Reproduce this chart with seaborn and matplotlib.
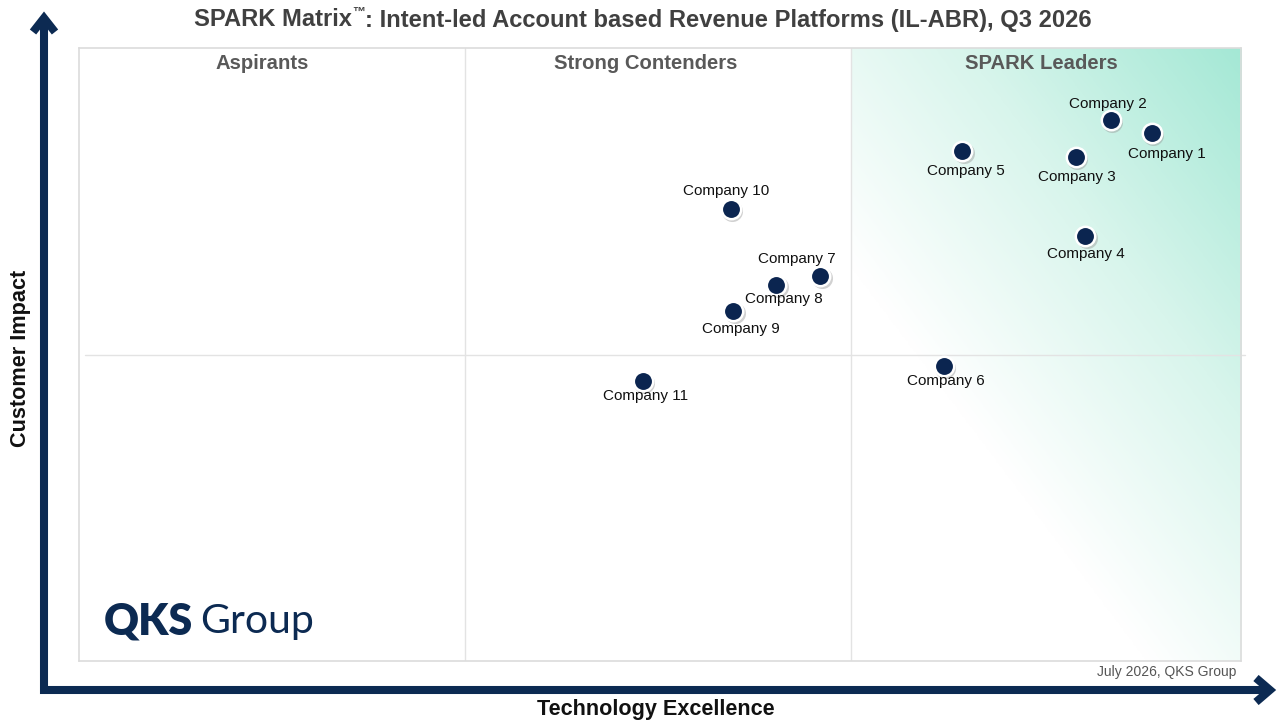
import numpy as np
import pandas as pd
import matplotlib
matplotlib.use("Agg")
import matplotlib.pyplot as plt
from matplotlib.colors import LinearSegmentedColormap
from matplotlib.lines import Line2D
import seaborn as sns

# ---- data ----
companies = ["Company 1", "Company 2", "Company 3", "Company 4", "Company 5", "Company 6",
             "Company 7", "Company 8", "Company 9", "Company 10", "Company 11"]
tech_excellence = [92.3, 88.8, 85.8, 86.6, 76.0, 74.4, 63.8, 60.0, 56.3, 56.1, 48.5]
customer_impact = [86.1, 88.3, 82.2, 69.3, 83.2, 48.1, 62.8, 61.3, 57.1, 73.7, 45.7]
quadrants = ["Aspirants", "Strong Contenders", "SPARK Leaders"]
title_parts = ["SPARK Matrix", "\u2122", ": Intent-led Account based Revenue Platforms (IL-ABR), Q3 2026"]
x_label = "Technology Excellence"
y_label = "Customer Impact"
footnote = "July 2026, QKS Group"

# label offsets in pixels (dx right, dy up)
label_offsets = [(15, -21), (-3, 16), (1, -20), (1, -18), (4, -20), (2, -15),
                 (-24, 17), (8, -14), (8, -18), (-5, 18), (3, -15)]
quadrant_label_x = [15.8, 48.8, 82.8]
col_edges = [33.2, 66.4]

df = pd.DataFrame({"company": companies, "x": tech_excellence, "y": customer_impact})

sns.set_theme(style="white")
plt.rcParams["font.family"] = ["Liberation Sans", "DejaVu Sans"]

W, H = 1280, 720
fig = plt.figure(figsize=(12.8, 7.2), dpi=100)
ax = fig.add_axes([79 / W, 1 - 661 / H, (1241 - 79) / W, (661 - 48) / H])
ax.set_xlim(0, 100)
ax.set_ylim(0, 100)

# gradient in leaders column
x0 = col_edges[1]
gx = np.linspace(x0, 100, 300)
gy = np.linspace(0, 100, 400)
GX, GY = np.meshgrid(gx, gy)
px_per_x = (1241 - 79) / 100
px_per_y = (661 - 48) / 100
t = 0.8 * (GX - x0) * px_per_x + 0.6 * GY * px_per_y
val = np.clip((t - 235) / (680 - 235), 0, 1)
cmap = LinearSegmentedColormap.from_list("lead", ["#ffffff", "#d8f5ec", "#a4e8d5"])
ax.imshow(val, extent=[x0, 100, 0, 100], origin="lower", aspect="auto", cmap=cmap,
          vmin=0, vmax=1, zorder=0, interpolation="bilinear")

# grid lines
grid_c = "#e3e3e3"
for xv in col_edges:
    ax.axvline(xv, color=grid_c, lw=1.0, zorder=1)
ax.plot([0.5, 100.35], [50, 50], color=grid_c, lw=1.0, zorder=1, clip_on=False)
for s in ax.spines.values():
    s.set_color("#dcdcdc")
    s.set_linewidth(1.2)
ax.set_xticks([])
ax.set_yticks([])

# shadow + points
ax.scatter(np.array(tech_excellence) + 0.12, np.array(customer_impact) - 0.35, s=230,
           color="#9a9a9a", alpha=0.45, linewidths=0, zorder=2)
sns.scatterplot(data=df, x="x", y="y", ax=ax, s=195, color="#0b2550",
                edgecolor="white", linewidth=1.8, zorder=3, legend=False)
ax.set_xlabel("")
ax.set_ylabel("")

for name, xv, yv, (dx, dy) in zip(companies, tech_excellence, customer_impact, label_offsets):
    ax.annotate(name, (xv, yv), xytext=(dx, dy), textcoords="offset pixels",
                ha="center", va="center", fontsize=11, color="#111111", zorder=4)

for q, qx in zip(quadrants, quadrant_label_x):
    ax.text(qx, 97.5, q, ha="center", va="center", fontsize=14.6, fontweight="bold",
            color="#595959", zorder=4)

# logo
ax.text(104 / W, 1 - 622 / H, "QKS", transform=fig.transFigure, fontsize=31,
        fontweight="heavy", color="#0c2a52", ha="left", va="center",
        family=["Lato", "DejaVu Sans"])
ax.text(200 / W, 1 - 622 / H, "Group", transform=fig.transFigure, fontsize=29.5,
        color="#0c2a52", ha="left", va="center", family=["Lato", "DejaVu Sans"])

# footnote
fig.text(1236 / W, 1 - 672 / H, footnote, ha="right", va="center", fontsize=10,
         color="#555555")

# title (with small raised trademark sign), centred as a whole
renderer = fig.canvas.get_renderer()
tsize = 17.1
ty = 1 - 20 / H
t1 = fig.text(0, ty, title_parts[0], ha="left", va="center", fontsize=tsize,
              fontweight="bold", color="#404040")
t2 = fig.text(0, ty + 7 / H, title_parts[1], ha="left", va="center", fontsize=tsize * 0.55,
              fontweight="bold", color="#404040")
t3 = fig.text(0, ty, title_parts[2], ha="left", va="center", fontsize=tsize,
              fontweight="bold", color="#404040")
w1 = t1.get_window_extent(renderer).width
w2 = t2.get_window_extent(renderer).width
w3 = t3.get_window_extent(renderer).width
start = 643 - (w1 + w2 + w3) / 2
t1.set_x(start / W)
t2.set_x((start + w1) / W)
t3.set_x((start + w1 + w2) / W)

fig.text(656 / W, 1 - 710 / H, x_label, ha="center", va="center", fontsize=15.6,
         fontweight="bold", color="#111111")
fig.text(21 / W, 1 - 358 / H, y_label, ha="center", va="center", fontsize=15.6,
         fontweight="bold", color="#111111", rotation=90)

# arrows (L shape with chevron heads)
navy = "#0c2a52"
def fp(x, y):
    return x / W, 1 - y / H

lw = 5.8
xs, ys = zip(fp(44, 18), fp(44, 690), fp(1270, 690))
fig.add_artist(Line2D(xs, ys, transform=fig.transFigure, color=navy, lw=lw,
                      solid_joinstyle="miter", solid_capstyle="butt"))
xs, ys = zip(fp(33, 32), fp(44, 18), fp(55, 32))
fig.add_artist(Line2D(xs, ys, transform=fig.transFigure, color=navy, lw=lw,
                      solid_joinstyle="miter", solid_capstyle="butt"))
xs, ys = zip(fp(1256, 678), fp(1270, 690), fp(1256, 702))
fig.add_artist(Line2D(xs, ys, transform=fig.transFigure, color=navy, lw=lw,
                      solid_joinstyle="miter", solid_capstyle="butt"))

fig.savefig("out.png", dpi=100)
